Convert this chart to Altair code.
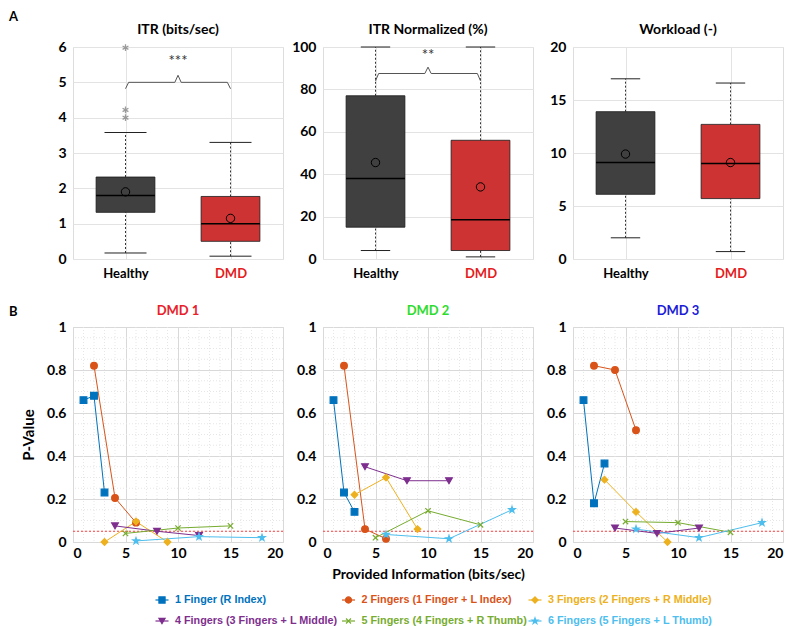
import altair as alt
import pandas as pd

FONT = "Lato"
LEG_FONT = "Liberation Sans"
GRID = "#e3e3e3"
GRID_MINOR = "#e6e6e6"

# ---------------- Panel A: box plots ----------------
groups = ["Healthy", "DMD"]
group_fill = ["#404040", "#cd3333"]
group_label_color = ["#000000", "#e3201b"]

itr_low = [0.17, 0.08]
itr_q1 = [1.32, 0.50]
itr_median = [1.80, 1.00]
itr_q3 = [2.32, 1.77]
itr_high = [3.58, 3.30]
itr_mean = [1.90, 1.15]
itr_outliers_healthy = [4.00, 4.22, 5.98]
itr_ticks = [0, 1, 2, 3, 4, 5, 6]

norm_low = [4.0, 1.0]
norm_q1 = [15.0, 4.0]
norm_median = [38.0, 18.5]
norm_q3 = [77.0, 56.0]
norm_high = [100.0, 100.0]
norm_mean = [45.5, 34.0]
norm_ticks = [0, 20, 40, 60, 80, 100]

work_low = [2.0, 0.7]
work_q1 = [6.1, 5.7]
work_median = [9.1, 9.0]
work_q3 = [13.9, 12.7]
work_high = [17.0, 16.6]
work_mean = [9.9, 9.1]
work_ticks = [0, 5, 10, 15, 20]

# significance brackets: (level, end drop, peak, text level, stars)
itr_bracket = (5.0, 4.82, 5.2, 5.6, "***")
norm_bracket = (87.5, 84.0, 90.5, 96.0, "**")

# ---------------- Panel B: p-values ----------------
series = [
    "1 Finger  (R Index)",
    "2 Fingers (1 Finger + L Index)",
    "3 Fingers (2 Fingers + R Middle)",
    "4 Fingers (3 Fingers + L Middle)",
    "5 Fingers (4 Fingers + R Thumb)",
    "6 Fingers (5 Fingers + L Thumb)",
]
series_colors = ["#0072BD", "#D95319", "#EDB120", "#7E2F8E", "#77AC30", "#4DBEEE"]
STAR = ("M0,-1L0.2245,-0.309L0.951,-0.309L0.363,0.118L0.588,0.809L0,0.382"
        "L-0.588,0.809L-0.363,0.118L-0.951,-0.309L-0.2245,-0.309Z")
XMARK = "M-0.8,-0.8L0.8,0.8M-0.8,0.8L0.8,-0.8"
ASTERISK = "M0,-1L0,1M-0.87,-0.5L0.87,0.5M-0.87,0.5L0.87,-0.5"
series_shapes = ["square", "circle", "diamond", "triangle-down", XMARK, STAR]

info_x = [[1, 2, 3], [2, 4, 6], [3, 6, 9], [4, 8, 12], [5, 10, 15], [6, 12, 18]]

dmd1_p = [[0.66, 0.68, 0.23], [0.82, 0.205, 0.09], [0.0, 0.095, 0.0],
          [0.075, 0.05, 0.03], [0.04, 0.065, 0.075], [0.005, 0.025, 0.02]]
dmd2_p = [[0.66, 0.23, 0.14], [0.82, 0.06, 0.015], [0.22, 0.30, 0.06],
          [0.35, 0.285, 0.285], [0.02, 0.145, 0.08], [0.035, 0.015, 0.15]]
dmd3_p = [[0.66, 0.18, 0.365], [0.82, 0.80, 0.52], [0.29, 0.14, 0.0],
          [0.065, 0.04, 0.065], [0.095, 0.09, 0.045], [0.06, 0.02, 0.09]]

subjects = ["DMD 1", "DMD 2", "DMD 3"]
subject_colors = ["#e8202a", "#2edc2e", "#1c1cd8"]
subject_p = [dmd1_p, dmd2_p, dmd3_p]
sig_level = 0.05
x_ticks = [0, 5, 10, 15, 20]
y_ticks = [0, 0.2, 0.4, 0.6, 0.8, 1]
x_title = "Provided Information (bits/sec)"
y_title = "P-Value"

PW, PH_A, PH_B = 210, 212, 215
BOX_HALF = 0.28


def text_at(text, x, y, size, color="black", align="left"):
    return alt.Chart(pd.DataFrame({"t": [text]})).mark_text(
        font=FONT, fontSize=size, fontWeight="bold", align=align, baseline="middle", color=color
    ).encode(text="t:N", x=alt.value(x), y=alt.value(y))


def box_panel(title, low, q1, med, q3, high, mean, ticks, outliers=None, bracket=None, label=None,
              cap_half=0.14):
    pos = list(range(1, len(groups) + 1))
    df = pd.DataFrame({"group": groups, "pos": pos, "low": low, "q1": q1, "median": med,
                       "q3": q3, "high": high, "mean": mean})
    df["box_l"] = df["pos"] - BOX_HALF
    df["box_r"] = df["pos"] + BOX_HALF
    df["cap_l"] = df["pos"] - cap_half
    df["cap_r"] = df["pos"] + cap_half

    xscale = alt.Scale(domain=[0.5, len(groups) + 0.5], nice=False, zero=False)
    yscale = alt.Scale(domain=[ticks[0], ticks[-1]], nice=False)
    label_expr = "datum.value == 1 ? '%s' : '%s'" % (groups[0], groups[1])
    xaxis = alt.Axis(values=pos, labelExpr=label_expr, grid=True, gridColor=GRID, ticks=False,
                     domain=False, labelFont=FONT, labelFontSize=13, labelFontWeight="bold",
                     labelColor={"condition": {"test": "datum.value == 2", "value": group_label_color[1]},
                                 "value": group_label_color[0]},
                     labelPadding=8)
    yaxis = alt.Axis(values=ticks, grid=True, gridColor=GRID, ticks=False, domain=False,
                     labelFont=FONT, labelFontSize=14, labelFontWeight="bold", labelColor="black",
                     labelPadding=7)

    def X(f):
        return alt.X(f"{f}:Q", scale=xscale, axis=xaxis, title=None)

    def Y(f):
        return alt.Y(f"{f}:Q", scale=yscale, axis=yaxis, title=None)

    base = alt.Chart(df)
    layers = [
        base.mark_rule(color="black", strokeDash=[2, 2], strokeWidth=0.8).encode(x=X("pos"), y=Y("low"), y2="q1:Q"),
        base.mark_rule(color="black", strokeDash=[2, 2], strokeWidth=0.8).encode(x=X("pos"), y=Y("q3"), y2="high:Q"),
        base.mark_rule(color="#222222", strokeWidth=1).encode(x=X("cap_l"), x2="cap_r:Q", y=Y("low")),
        base.mark_rule(color="#222222", strokeWidth=1).encode(x=X("cap_l"), x2="cap_r:Q", y=Y("high")),
        base.mark_rect(stroke="#1a1a1a", strokeWidth=0.8).encode(
            x=X("box_l"), x2="box_r:Q", y=Y("q1"), y2="q3:Q",
            fill=alt.Fill("group:N", scale=alt.Scale(domain=groups, range=group_fill), legend=None)),
        base.mark_rule(color="black", strokeWidth=1.5).encode(x=X("box_l"), x2="box_r:Q", y=Y("median")),
        base.mark_point(shape="circle", filled=False, color="black", size=70, strokeWidth=1, opacity=1).encode(
            x=X("pos"), y=Y("mean")),
    ]
    if outliers:
        odf = pd.DataFrame({"pos": [1] * len(outliers), "v": outliers})
        layers.append(alt.Chart(odf).mark_point(shape=ASTERISK, color="#9a9a9a", size=45, strokeWidth=1.3,
                                                opacity=1).encode(x=X("pos"), y=Y("v")))
    if bracket:
        level, drop, peak, ty, stars = bracket
        bx = [1, 1.03, 1.47, 1.5, 1.53, 1.97, 2]
        by = [drop, level, level, peak, level, level, drop]
        bdf = pd.DataFrame({"bx": bx, "by": by, "k": list(range(len(bx)))})
        layers.append(alt.Chart(bdf).mark_line(color="#555555", strokeWidth=1).encode(
            x=X("bx"), y=Y("by"), order="k:Q"))
        sdf = pd.DataFrame({"sx": [1.5], "sy": [ty], "s": [stars]})
        layers.append(alt.Chart(sdf).mark_text(font=FONT, fontSize=15, color="#333333", baseline="middle").encode(
            x=X("sx"), y=Y("sy"), text="s:N"))
    layers.append(text_at(title, PW / 2, -17, 14, align="center"))
    if label:
        layers.append(text_at(label, -64, -30, 13))
    return alt.layer(*layers).properties(width=PW, height=PH_A)


def p_panel(i):
    rows = []
    for s, name in enumerate(series):
        for k, (xv, pv) in enumerate(zip(info_x[s], subject_p[i][s])):
            rows.append({"series": name, "info": xv, "p": pv, "k": k})
    df = pd.DataFrame(rows)
    xscale = alt.Scale(domain=[x_ticks[0], x_ticks[-1]], nice=False)
    yscale = alt.Scale(domain=[y_ticks[0], y_ticks[-1]], nice=False)
    xt = x_title if i == 1 else None
    yt = y_title if i == 0 else None
    xaxis = alt.Axis(values=x_ticks, grid=True, gridColor="#d9d9d9", ticks=False, domain=False,
                     labelFont=FONT, labelFontSize=14, labelFontWeight="bold", labelColor="black",
                     labelPadding=4, titleFont=FONT, titleFontSize=14, titleFontWeight="bold",
                     titleColor="black", titlePadding=7)
    yaxis = alt.Axis(values=y_ticks, format="~g", grid=True, gridColor="#d9d9d9", ticks=False,
                     domain=False, labelFont=FONT, labelFontSize=14, labelFontWeight="bold",
                     labelColor="black", labelPadding=7, titleFont=FONT, titleFontSize=15,
                     titleFontWeight="bold", titleColor="black", titlePadding=10)

    def X(f):
        return alt.X(f"{f}:Q", scale=xscale, axis=xaxis, title=xt)

    def Y(f):
        return alt.Y(f"{f}:Q", scale=yscale, axis=yaxis, title=yt)

    minor_x = [v for v in range(x_ticks[0], x_ticks[-1] + 1) if v % 5]
    minor_y = [round(v * 0.05, 2) for v in range(1, 20) if v % 4]
    mx = alt.Chart(pd.DataFrame({"mx": minor_x})).mark_rule(
        color=GRID_MINOR, strokeDash=[1, 2], strokeWidth=1).encode(x=X("mx"))
    my = alt.Chart(pd.DataFrame({"my": minor_y})).mark_rule(
        color=GRID_MINOR, strokeDash=[1, 2], strokeWidth=1).encode(y=Y("my"))
    thr = alt.Chart(pd.DataFrame({"thr": [sig_level]})).mark_rule(
        color="#ff3b3b", strokeDash=[2, 2], strokeWidth=1).encode(y=Y("thr"))
    cscale = alt.Scale(domain=series, range=series_colors)
    base = alt.Chart(df)
    lines = base.mark_line(strokeWidth=1).encode(
        x=X("info"), y=Y("p"), color=alt.Color("series:N", scale=cscale, legend=None),
        detail="series:N", order="k:Q")
    pts = base.mark_point(filled=True, size=45, strokeWidth=1.2, opacity=1).encode(
        x=X("info"), y=Y("p"),
        color=alt.Color("series:N", scale=cscale, legend=None),
        stroke=alt.Stroke("series:N", scale=cscale, legend=None),
        shape=alt.Shape("series:N", scale=alt.Scale(domain=series, range=series_shapes), legend=None))
    layers = [mx, my, thr, lines, pts,
              text_at(subjects[i], PW / 2, -16, 13, color=subject_colors[i], align="center")]
    if i == 0:
        layers.append(text_at("B", -64, -15, 13))
    return alt.layer(*layers).properties(width=PW, height=PH_B)


panels_A = [
    box_panel("ITR (bits/sec)", itr_low, itr_q1, itr_median, itr_q3, itr_high, itr_mean, itr_ticks,
              outliers=itr_outliers_healthy, bracket=itr_bracket, label="A", cap_half=0.2),
    box_panel("ITR Normalized (%)", norm_low, norm_q1, norm_median, norm_q3, norm_high, norm_mean,
              norm_ticks, bracket=norm_bracket),
    box_panel("Workload (-)", work_low, work_q1, work_median, work_q3, work_high, work_mean, work_ticks),
]
panels_B = [p_panel(0), p_panel(1), p_panel(2)]

# ---------------- legend ----------------
ldf = pd.DataFrame({"series": series, "col": [i % 3 for i in range(len(series))],
                    "row": [i // 3 for i in range(len(series))]})
lx = alt.X("col:Q", scale=alt.Scale(domain=[0, 2], range=[89, 462]), axis=None)
ly = alt.Y("row:Q", scale=alt.Scale(domain=[0, 1], range=[-10, 11]), axis=None)
lcs = alt.Scale(domain=series, range=series_colors)
lbase = alt.Chart(ldf)
leg_line = lbase.mark_point(shape="stroke", size=170, strokeWidth=1.2, opacity=1).encode(
    x=lx, y=ly, stroke=alt.Stroke("series:N", scale=lcs, legend=None))
leg_mark = lbase.mark_point(filled=True, size=38, strokeWidth=1.2, opacity=1).encode(
    x=lx, y=ly, color=alt.Color("series:N", scale=lcs, legend=None),
    stroke=alt.Stroke("series:N", scale=lcs, legend=None),
    shape=alt.Shape("series:N", scale=alt.Scale(domain=series, range=series_shapes), legend=None))
leg_text = lbase.mark_text(font=LEG_FONT, fontSize=10.8, fontWeight="bold", align="left",
                           baseline="middle", dx=13).encode(
    x=lx, y=ly, text="series:N", color=alt.Color("series:N", scale=lcs, legend=None))
legend = alt.layer(leg_line, leg_mark, leg_text).properties(
    width=PW, height=20, view=alt.ViewBackground(strokeWidth=0))

chart = alt.concat(*panels_A, *panels_B, legend, columns=3,
                   spacing={"row": 68, "column": 40}, bounds="flush").properties(
    padding={"left": 0, "top": 2, "right": 0, "bottom": 0}
).configure_view(stroke="#808080", strokeWidth=1).configure(background="white")

chart.save("out.html", embed_options={"renderer": "svg", "actions": False})
